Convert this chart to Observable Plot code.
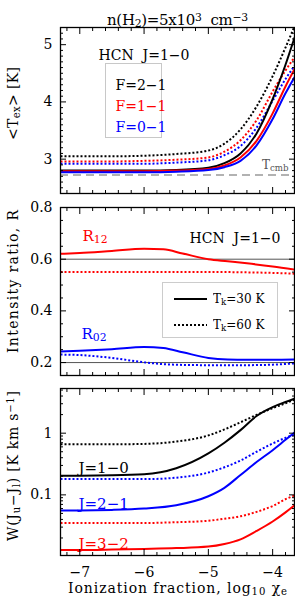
<!DOCTYPE html>
<html><head><meta charset="utf-8">
<script src="https://cdn.jsdelivr.net/npm/d3@7"></script>
<script src="https://cdn.jsdelivr.net/npm/@observablehq/plot@0.6"></script>
<style>
body{margin:0;background:#fff;}
#wrap{position:relative;width:295px;height:600px;font-family:"DejaVu Serif",serif;overflow:hidden;}
#wrap > svg{position:absolute;left:0;}
#leg2{position:absolute;left:162px;top:282px;width:116px;height:56px;border:1px solid #ccc;box-sizing:border-box;font-size:12px;}
#leg2 .row{position:absolute;left:11px;height:14px;display:flex;align-items:center;}
</style></head><body><div id="wrap"><div id="leg2"></div></div>
<script>
// ---------- data ----------
const xDomain = [-7.3, -3.66];
const xMajor = [-7, -6, -5, -4];
const xMinor = [-7.2,-6.8,-6.6,-6.4,-6.2,-5.8,-5.6,-5.4,-5.2,-4.8,-4.6,-4.4,-4.2,-3.8];

// Panel 1: <Tex> [K]
const x1 = [-7.3, -7.0, -6.5, -6.0, -5.5, -5.0, -4.75, -4.5, -4.25, -4.0, -3.8, -3.66];
const texF21_30 = [2.80, 2.80, 2.80, 2.80, 2.81, 2.85, 2.93, 3.10, 3.45, 4.05, 4.65, 5.12];
const texF21_60 = [3.05, 3.05, 3.05, 3.06, 3.09, 3.15, 3.27, 3.52, 3.92, 4.45, 4.95, 5.32];
const texF11_30 = [2.79, 2.79, 2.79, 2.79, 2.80, 2.83, 2.89, 3.03, 3.32, 3.80, 4.27, 4.57];
const texF11_60 = [2.96, 2.96, 2.96, 2.97, 2.99, 3.03, 3.13, 3.33, 3.68, 4.18, 4.55, 4.78];
const texF01_30 = [2.77, 2.77, 2.77, 2.77, 2.78, 2.81, 2.86, 2.97, 3.24, 3.70, 4.15, 4.43];
const texF01_60 = [2.92, 2.92, 2.92, 2.92, 2.94, 2.98, 3.07, 3.23, 3.55, 4.02, 4.40, 4.63];
const tcmb = [2.725];
const y1Domain = [2.4, 5.3];
const y1Major = [3, 4, 5];
const y1Minor = [2.5,2.6,2.7,2.8,2.9,3.1,3.2,3.3,3.4,3.5,3.6,3.7,3.8,3.9,4.1,4.2,4.3,4.4,4.5,4.6,4.7,4.8,4.9,5.1,5.2,5.3];

// Panel 2: intensity ratios
const x2 = [-7.3, -7.0, -6.5, -6.0, -5.7, -5.4, -5.0, -4.7, -4.4, -4.0, -3.66];
const r12_30 = [0.621, 0.624, 0.632, 0.640, 0.638, 0.622, 0.600, 0.592, 0.584, 0.572, 0.560];
const r12_60 = [0.550, 0.550, 0.550, 0.550, 0.550, 0.550, 0.550, 0.550, 0.549, 0.547, 0.544];
const r02_30 = [0.243, 0.246, 0.252, 0.260, 0.256, 0.240, 0.218, 0.212, 0.211, 0.211, 0.212];
const r02_60 = [0.231, 0.229, 0.218, 0.201, 0.194, 0.191, 0.190, 0.190, 0.190, 0.192, 0.197];
const refRatios = [0.6, 0.2];
const y2Domain = [0.15, 0.8];
const y2Major = [0.2, 0.4, 0.6, 0.8];
const y2Minor = [0.15,0.25,0.3,0.35,0.45,0.5,0.55,0.65,0.7,0.75];

// Panel 3: integrated intensities W [K km/s]
const x3 = [-7.3, -7.0, -6.5, -6.0, -5.5, -5.0, -4.75, -4.5, -4.25, -4.0, -3.8, -3.66];
const w10_30 = [0.205, 0.205, 0.207, 0.215, 0.27, 0.47, 0.70, 1.12, 1.90, 2.65, 3.20, 3.62];
const w10_60 = [0.66, 0.66, 0.66, 0.67, 0.73, 0.92, 1.15, 1.50, 1.98, 2.55, 3.05, 3.50];
const w21_30 = [0.056, 0.056, 0.057, 0.060, 0.068, 0.095, 0.13, 0.21, 0.34, 0.53, 0.78, 1.02];
const w21_60 = [0.18, 0.18, 0.18, 0.18, 0.19, 0.23, 0.28, 0.36, 0.50, 0.68, 0.84, 0.95];
const w32_30 = [0.0128, 0.0128, 0.013, 0.0133, 0.0137, 0.0145, 0.016, 0.019, 0.026, 0.037, 0.052, 0.068];
const w32_60 = [0.035, 0.035, 0.035, 0.035, 0.036, 0.038, 0.041, 0.045, 0.053, 0.066, 0.085, 0.098];
const y3Domain = [0.0104, 5.3];
const y3Major = [0.1, 1];
const y3Minor = [0.02,0.03,0.04,0.05,0.06,0.07,0.08,0.09,0.2,0.3,0.4,0.5,0.6,0.7,0.8,0.9,2,3,4,5];

// ---------- text labels ----------
const title = "n(H_{2})=5x10^{3}  cm^{−3}";
const y1Label = "<T_{ex}> [K]";
const y2Label = "Intensity ratio, R";
const y3Label = "W(J_{u}−J_{l}) [K km s^{−1}]";
const xLabel = "Ionization fraction, log_{10} χ_{e}";
const molLabel = "HCN  J=1−0";
const fLabels = ["F=2−1", "F=1−1", "F=0−1"];
const jLabels = ["J=1−0", "J=2−1", "J=3−2"];
// target widths (px) of the long labels as measured in the reference
const targetWidth = new Map([[title, 141], [y1Label, 73], [y2Label, 143], [y3Label, 150], [xLabel, 219]]);

// ---------- helpers ----------
function rows(xs, ys, color, tk) { return xs.map((x, i) => ({x, y: ys[i], color, tk, key: color + tk})); }

function frameTicks(xMaj, xMin, yMaj, yMin) {
  const m = [];
  const ax = (fn, anchor, ticks, size) => {
    const ins = {bottom: "insetBottom", top: "insetTop", left: "insetLeft", right: "insetRight"}[anchor];
    return fn({anchor, ticks, tickSize: size, [ins]: size, fill: "none", label: null, strokeWidth: 1});
  };
  for (const a of ["bottom", "top"]) { m.push(ax(Plot.axisX, a, xMaj, 6)); m.push(ax(Plot.axisX, a, xMin, 3)); }
  for (const a of ["left", "right"]) { m.push(ax(Plot.axisY, a, yMaj, 6)); m.push(ax(Plot.axisY, a, yMin, 3)); }
  return m;
}

function rich(svg) {
  d3.select(svg).selectAll("text").each(function () {
    const t = this.textContent;
    const target = targetWidth.get(t);
    if (/[_^]\{/.test(t)) {
      const re = /([_^])\{([^}]*)\}/g;
      let last = 0, mt;
      const parts = [];
      while ((mt = re.exec(t))) {
        if (mt.index > last) parts.push({s: t.slice(last, mt.index)});
        parts.push({s: mt[2], k: mt[1]});
        last = re.lastIndex;
      }
      if (last < t.length) parts.push({s: t.slice(last)});
      this.textContent = "";
      for (const p of parts) {
        const ts = d3.select(this).append("tspan").text(p.s);
        if (p.k) ts.attr("font-size", "72%").attr("baseline-shift", p.k === "_" ? "-22%" : "38%");
      }
    }
    if (target) {
      this.setAttribute("text-anchor", "start");
      this.style.textAnchor = "start";
      this.setAttribute("x", -target / 2);
      this.setAttribute("textLength", target);
      this.setAttribute("lengthAdjust", "spacing");
    }
  });
}

const solid = {strokeWidth: 2};
const dotted = {strokeWidth: 2, strokeDasharray: "2,2", strokeLinecap: "butt"};
const font = {fontFamily: "DejaVu Serif", fontSize: "13px", background: "transparent", overflow: "visible"};
const lbl = {fontSize: 14, fill: "black"};

function linesFor(data) {
  return [
    Plot.line(data.filter(d => d.tk === 60), {x: "x", y: "y", z: "key", stroke: "color", curve: "monotone-x", clip: true, ...dotted}),
    Plot.line(data.filter(d => d.tk === 30), {x: "x", y: "y", z: "key", stroke: "color", curve: "monotone-x", clip: true, ...solid})
  ];
}

const wrap = document.getElementById("wrap");
const placed = [];
function place(svg, top) { svg.style.top = top + "px"; wrap.appendChild(svg); placed.push(svg); }

// ---------- panel 1 ----------
const d1 = [
  ...rows(x1, texF21_60, "black", 60), ...rows(x1, texF11_60, "red", 60), ...rows(x1, texF01_60, "blue", 60),
  ...rows(x1, texF21_30, "black", 30), ...rows(x1, texF11_30, "red", 30), ...rows(x1, texF01_30, "blue", 30)
];
const fColors = ["black", "red", "blue"];
const p1 = Plot.plot({
  width: 295, height: 200, marginTop: 27, marginBottom: 7, marginLeft: 60, marginRight: 1,
  style: font,
  x: {domain: xDomain, axis: null},
  y: {domain: y1Domain, axis: null},
  color: {type: "identity"},
  marks: [
    Plot.ruleY(tcmb, {stroke: "#999", strokeWidth: 1.5, strokeDasharray: "8,5"}),
    ...linesFor(d1),
    Plot.frame({insetLeft: 45, insetRight: 133, insetTop: 36, insetBottom: 56, stroke: "#c8c8c8"}),
    ...fLabels.map((f, i) => Plot.text([f], {frameAnchor: "top-left", dx: 55, dy: 53 + i * 21, textAnchor: "start", fill: fColors[i], fontSize: 14})),
    Plot.text([molLabel], {frameAnchor: "top-left", dx: 38, dy: 23, textAnchor: "start", ...lbl}),
    Plot.text(["T_{cmb}"], {frameAnchor: "bottom-right", dx: -6, dy: -25, textAnchor: "end", fill: "#555", fontSize: 12}),
    Plot.text([title], {frameAnchor: "top", dy: -13, ...lbl, fontSize: 15}),
    Plot.text([y1Label], {frameAnchor: "left", rotate: -90, dx: -47, dy: -7, ...lbl}),
    Plot.axisY({ticks: y1Major, tickSize: 0, tickPadding: 8, tickFormat: d => String(d), label: null, stroke: "none", fontSize: 14}),
    ...frameTicks(xMajor, xMinor, y1Major, y1Minor),
    Plot.frame({stroke: "black", strokeWidth: 1.3})
  ]
});
place(p1, 0);

// ---------- panel 2 ----------
const d2 = [
  ...rows(x2, r12_60, "red", 60), ...rows(x2, r02_60, "blue", 60),
  ...rows(x2, r12_30, "red", 30), ...rows(x2, r02_30, "blue", 30)
];
const p2 = Plot.plot({
  width: 295, height: 180, marginTop: 7, marginBottom: 5, marginLeft: 60, marginRight: 1,
  style: font,
  x: {domain: xDomain, axis: null},
  y: {domain: y2Domain, axis: null},
  color: {type: "identity"},
  marks: [
    Plot.ruleY(refRatios, {stroke: "#555", strokeWidth: 1}),
    ...linesFor(d2),
    Plot.text(["R_{12}"], {frameAnchor: "top-left", dx: 22, dy: 23, textAnchor: "start", fill: "red", fontSize: 15}),
    Plot.text(["R_{02}"], {frameAnchor: "top-left", dx: 21, dy: 121, textAnchor: "start", fill: "blue", fontSize: 15}),
    Plot.text([molLabel], {frameAnchor: "top-right", dx: -14, dy: 26, textAnchor: "end", ...lbl}),
    Plot.text([y2Label], {frameAnchor: "left", rotate: -90, dx: -47, dy: -10, ...lbl}),
    Plot.axisY({ticks: y2Major, tickSize: 0, tickPadding: 8, tickFormat: d3.format(".1f"), label: null, stroke: "none", fontSize: 14}),
    ...frameTicks(xMajor, xMinor, y2Major, y2Minor),
    Plot.frame({stroke: "black", strokeWidth: 1.3})
  ]
});
place(p2, 200);

// legend for panel 2 (line styles)
const legItems = [{label: "T_{k}=30 K", dash: null}, {label: "T_{k}=60 K", dash: "2,2"}];
const leg2 = document.getElementById("leg2");
legItems.forEach((it, i) => {
  const row = document.createElement("div");
  row.className = "row";
  row.style.top = (i === 0 ? 9 : 35) + "px";
  const s = d3.create("svg").attr("width", 33).attr("height", 4);
  s.append("line").attr("x1", 0).attr("x2", 33).attr("y1", 2).attr("y2", 2)
    .attr("stroke", "black").attr("stroke-width", 2).attr("stroke-dasharray", it.dash);
  row.appendChild(s.node());
  const t = d3.create("svg").attr("width", 70).attr("height", 16).style("margin-left", "6px");
  t.append("text").attr("x", 0).attr("y", 12).attr("font-size", 12).attr("font-family", "DejaVu Serif").text(it.label);
  row.appendChild(t.node());
  leg2.appendChild(row);
  placed.push(t.node());
});

// ---------- panel 3 ----------
const d3data = [
  ...rows(x3, w10_60, "black", 60), ...rows(x3, w21_60, "blue", 60), ...rows(x3, w32_60, "red", 60),
  ...rows(x3, w10_30, "black", 30), ...rows(x3, w21_30, "blue", 30), ...rows(x3, w32_30, "red", 30)
];
const jColors = ["black", "blue", "red"];
const jDy = [74, 110, 150];
const p3 = Plot.plot({
  width: 295, height: 220, marginTop: 8, marginBottom: 45, marginLeft: 60, marginRight: 1,
  style: font,
  x: {domain: xDomain, axis: null},
  y: {type: "log", domain: y3Domain, axis: null},
  color: {type: "identity"},
  marks: [
    ...linesFor(d3data),
    ...jLabels.map((j, i) => Plot.text([j], {frameAnchor: "top-left", dx: 18, dy: jDy[i], textAnchor: "start", fill: jColors[i], fontSize: 15})),
    Plot.text([y3Label], {frameAnchor: "left", rotate: -90, dx: -47, dy: -6, ...lbl}),
    Plot.text([xLabel], {frameAnchor: "bottom", dy: 37, ...lbl}),
    Plot.axisY({ticks: y3Major, tickSize: 0, tickPadding: 8, tickFormat: d => String(d), label: null, stroke: "none", fontSize: 14}),
    Plot.axisX({ticks: xMajor, tickSize: 0, tickPadding: 12, tickFormat: d => "−" + Math.abs(d), label: null, stroke: "none", fontSize: 14}),
    ...frameTicks(xMajor, xMinor, y3Major, y3Minor),
    Plot.frame({stroke: "black", strokeWidth: 1.3})
  ]
});
place(p3, 380);

placed.forEach(rich);
</script></body></html>
